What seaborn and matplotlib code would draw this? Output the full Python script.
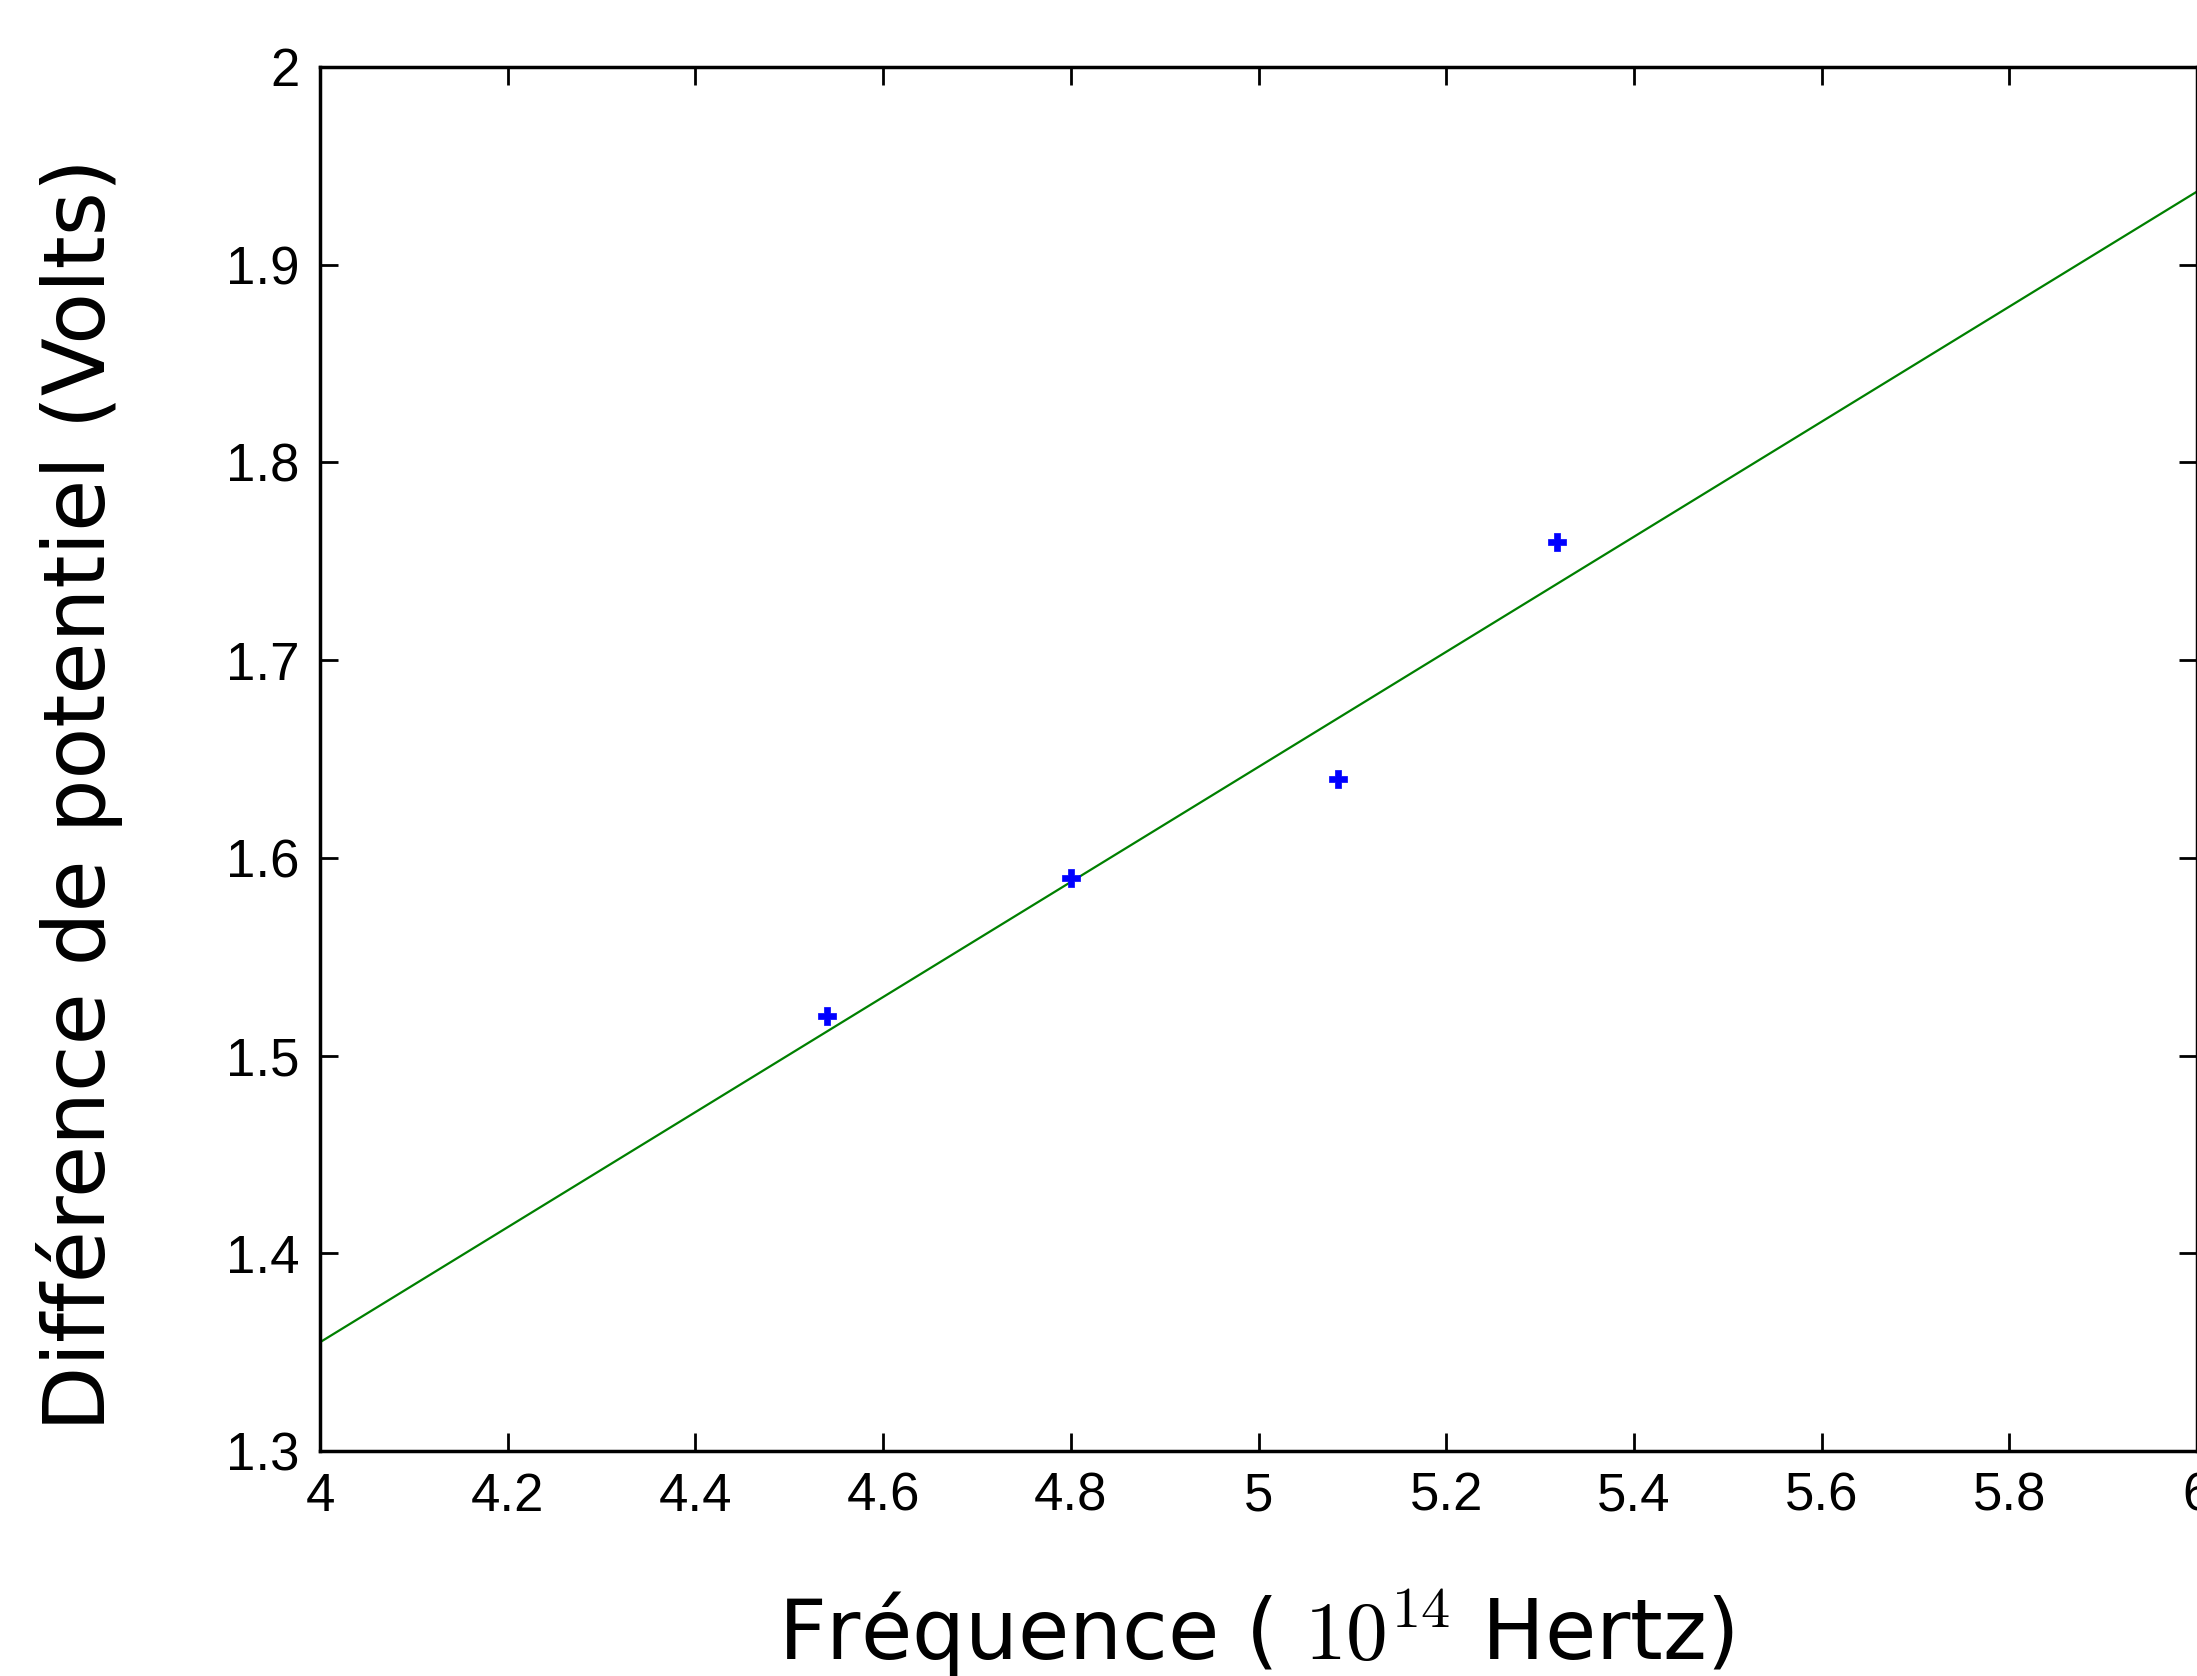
import numpy as np
import pandas as pd
import matplotlib
matplotlib.use("Agg")
import matplotlib.pyplot as plt
import seaborn as sns
from matplotlib.ticker import FuncFormatter


## données
freq = [4.54, 4.80, 5.085, 5.318]        # 10^14 Hz
tension = [1.52, 1.59, 1.64, 1.76]       # Volts

# droite d'ajustement (extrémités lues)
fit_x = [4.0, 6.0]
fit_y = [1.355, 1.937]

xticks = [4, 4.2, 4.4, 4.6, 4.8, 5, 5.2, 5.4, 5.6, 5.8, 6]
yticks = [1.3, 1.4, 1.5, 1.6, 1.7, 1.8, 1.9, 2]

points = pd.DataFrame({"freq": freq, "tension": tension})
droite = pd.DataFrame({"freq": fit_x, "tension": fit_y})


sns.set_style("ticks", {"axes.edgecolor": "black", "text.color": "black",
                        "xtick.color": "black", "ytick.color": "black",
                        "axes.labelcolor": "black"})
plt.rcParams["font.family"] = ["DejaVu Sans"]
plt.rcParams["mathtext.fontset"] = "cm"

fig = plt.figure(figsize=(21.97, 16.76), dpi=100)
ax = fig.add_axes([320 / 2197, 1 - 1451 / 1676, 1 - 320 / 2197, (1451 - 67) / 1676])

sns.lineplot(data=droite, x="freq", y="tension", ax=ax, color="#008000", lw=1.6)
sns.scatterplot(data=points, x="freq", y="tension", ax=ax, marker="P",
                color="blue", s=170, edgecolor="blue", linewidth=0.5, zorder=3)

ax.set_xlim(4, 6)
ax.set_ylim(1.3, 2)
ax.set_xticks(xticks)
ax.set_yticks(yticks)
fmt = FuncFormatter(lambda v, p: "%g" % v)
ax.xaxis.set_major_formatter(fmt)
ax.yaxis.set_major_formatter(fmt)

for sp in ax.spines.values():
    sp.set_linewidth(2.5)
    sp.set_visible(True)
    sp.set_color("black")

ax.tick_params(axis="both", direction="in", length=13, width=2,
               top=True, right=True, pad=15, labelsize=38,
               colors="black")
for lab in ax.get_xticklabels() + ax.get_yticklabels():
    lab.set_family(["Liberation Sans", "DejaVu Sans"])

ax.set_xlabel("")
ax.set_ylabel("")

fig.text(1256 / 2197, 1 - 1633 / 1676, r"Fréquence ( $10^{14}$ Hertz)",
         ha="center", va="center", fontsize=60, color="black")
fig.text(80 / 2197, 1 - 795 / 1676, "Différence de potentiel (Volts)",
         ha="center", va="center", rotation=90, fontsize=61, color="black")

fig.savefig("out.png", dpi=100, facecolor="white")
